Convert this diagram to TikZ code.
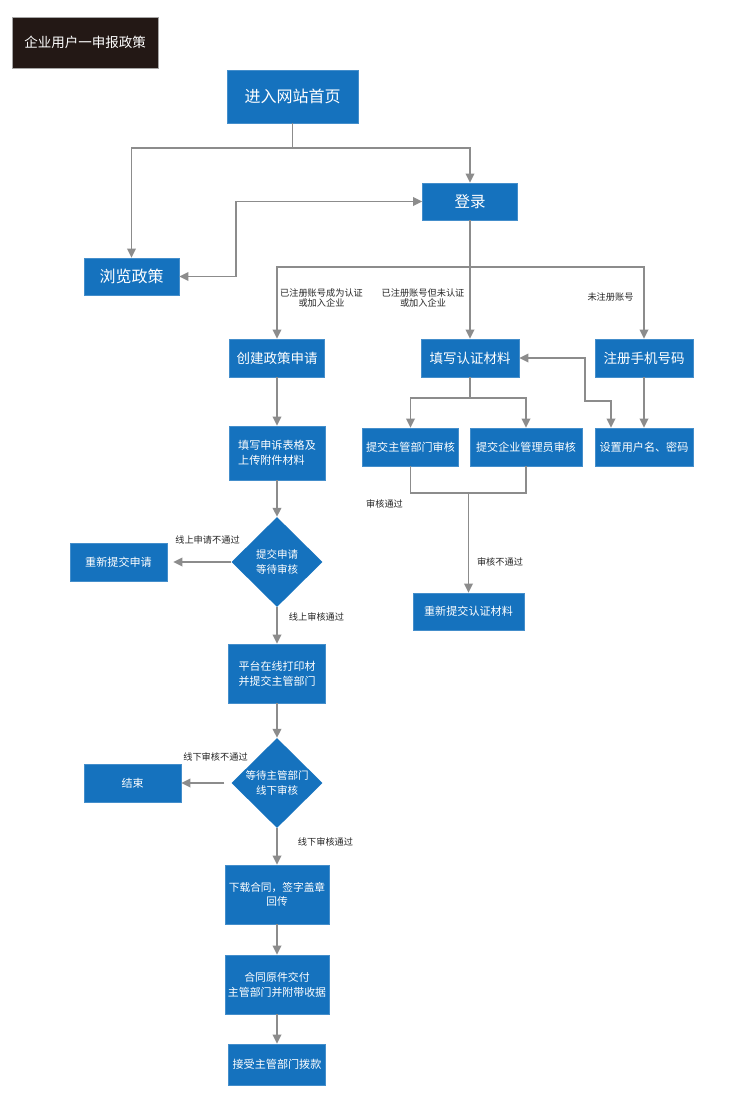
\documentclass[tikz,border=0pt]{standalone}
\usepackage{fontspec}
\newfontfamily\cjk{Noto Sans CJK SC}
\usetikzlibrary{shapes.geometric,arrows.meta}
\definecolor{boxblue}{RGB}{21,114,190}
\definecolor{linegray}{RGB}{140,140,140}
\definecolor{titlebg}{RGB}{35,24,21}
\tikzset{
  box/.style={rectangle, fill=boxblue, draw=boxblue!80!white, line width=0.6pt, text=white, inner sep=0pt, align=center},
  dia/.style={diamond, fill=boxblue, text=white, inner sep=0pt, align=center, minimum width=91pt, minimum height=90pt, font=\cjk\fontsize{10.5}{14.5}\selectfont},
  fs/.style={font={\pgfmathsetmacro\mybls{#1*1.35}\cjk\fontsize{#1}{\mybls}\selectfont}},
  conn/.style={draw=linegray, line width=1.8pt, -{Triangle[length=9pt,width=8.5pt]}, color=linegray},
  conn2/.style={draw=linegray, line width=1.8pt, {Triangle[length=9pt,width=8.5pt]}-{Triangle[length=9pt,width=8.5pt]}, color=linegray},
  plain/.style={draw=linegray, line width=1.8pt},
  lbl/.style={text=black!85, inner sep=0pt, align=center, font=\cjk\fontsize{9.2}{10.5}\selectfont},
}
\begin{document}
\begin{tikzpicture}[x=1pt,y=-1pt]
\useasboundingbox[fill=white] (0,0) rectangle (738,1112);

% title
\node[rectangle, fill=titlebg, draw=gray!70, line width=0.6pt, text=white, inner sep=0pt, minimum width=146pt, minimum height=51pt, fs=13.5] (title) at (85,42.5) {企业用户一申报政策};

% top
\node[box, minimum width=131pt, minimum height=53pt, fs=16] (home) at (292.5,96.5) {进入网站首页};
\node[box, minimum width=95pt, minimum height=37pt, fs=15.5] (login) at (470,201.5) {登录};
\node[box, minimum width=95pt, minimum height=37pt, fs=16] (browse) at (131.5,276.5) {浏览政策};

% second row
\node[box, minimum width=95pt, minimum height=38pt, fs=13.5] (create) at (277,358) {创建政策申请};
\node[box, minimum width=98pt, minimum height=38pt, fs=13.5] (fillauth) at (470,358) {填写认证材料};
\node[box, minimum width=98pt, minimum height=38pt, fs=13.5] (register) at (644,358) {注册手机号码};

% third row right
\node[box, minimum width=96pt, minimum height=38pt, fs=11.1] (subdept) at (410.5,447) {提交主管部门审核};
\node[box, minimum width=112pt, minimum height=38pt, fs=11.1] (subadmin) at (526,447) {提交企业管理员审核};
\node[box, minimum width=98pt, minimum height=38pt, fs=11.1] (setuser) at (644,447) {设置用户名、密码};
\node[box, minimum width=111pt, minimum height=37pt, fs=11.1] (resubauth) at (468.5,611.5) {重新提交认证材料};

% left column
\node[box, minimum width=96pt, minimum height=54pt, fs=11.1, align=left] (fillform) at (277,453) {填写申诉表格及\\上传附件材料};
\node[dia] (dia1) at (277,562) {提交申请\\等待审核};
\node[box, minimum width=97pt, minimum height=38pt, fs=11.1] (resubapp) at (118.5,562) {重新提交申请};
\node[box, minimum width=97pt, minimum height=59pt, fs=11] (print) at (277,673.5) {平台在线打印材\\并提交主管部门};
\node[dia] (dia2) at (277,783) {等待主管部门\\线下审核};
\node[box, minimum width=97pt, minimum height=38pt, fs=11] (end) at (132.5,783) {结束};
\node[box, minimum width=104pt, minimum height=59pt, fs=10.7] (download) at (277,894.5) {下载合同，签字盖章\\回传};
\node[box, minimum width=104pt, minimum height=59pt, fs=10.9] (original) at (277,984.5) {合同原件交付\\主管部门并附带收据};
\node[box, minimum width=97pt, minimum height=41pt, fs=11.1] (receive) at (277,1064.5) {接受主管部门拨款};

% connectors top
\coordinate (j0) at (292.5,148);
\draw[plain] (home.south) -- (j0);
\draw[conn] (j0) -| (browse.north);
\draw[conn] (j0) -| (login.north);
\draw[conn2] (browse.east) -- ++(57,0) |- (login.west);

\coordinate (j1) at (470,267);
\draw[conn] (login.south) -- (fillauth.north);
\draw[conn] (j1) -| (create.north);
\draw[conn] (j1) -| (register.north);

\node[lbl] (l1) at (321.5,298) {已注册账号成为认证\\或加入企业};
\node[lbl] (l2) at (423,298) {已注册账号但未认证\\或加入企业};
\node[lbl] (l3) at (610.5,297) {未注册账号};

% auth branch
\coordinate (j2) at (470,398);
\draw[plain] (fillauth.south) -- (j2);
\draw[conn] (j2) -| (subdept.north);
\draw[conn] (j2) -| (subadmin.north);
\draw[conn] (register.south) -- (setuser.north);
\draw[conn2] (fillauth.east) -- ++(66,0) -- ++(0,43) -| ([xshift=-33pt]setuser.north);

\coordinate (j3) at (468.5,493);
\draw[plain] (subdept.south) |- (j3) -| (subadmin.south);
\draw[conn] (j3) -- (resubauth.north);
\node[lbl] (l4) at (384.5,504) {审核通过};
\node[lbl] (l5) at (500,562) {审核不通过};

% left column connectors
\draw[conn] (create.south) -- (fillform.north);
\draw[conn] (fillform.south) -- (dia1.north);
\draw[conn, shorten >=6pt] (dia1.west) -- (resubapp.east);
\draw[conn] (dia1.south) -- (print.north);
\draw[conn] (print.south) -- (dia2.north);
\draw[conn, shorten <=7pt] (dia2.west) -- (end.east);
\draw[conn] (dia2.south) -- (download.north);
\draw[conn] (download.south) -- (original.north);
\draw[conn] (original.south) -- (receive.north);

\node[lbl] (l6) at (207.5,540) {线上申请不通过};
\node[lbl] (l7) at (316.5,617) {线上审核通过};
\node[lbl] (l8) at (215.5,757) {线下审核不通过};
\node[lbl] (l9) at (325.5,842) {线下审核通过};
\end{tikzpicture}
\end{document}
